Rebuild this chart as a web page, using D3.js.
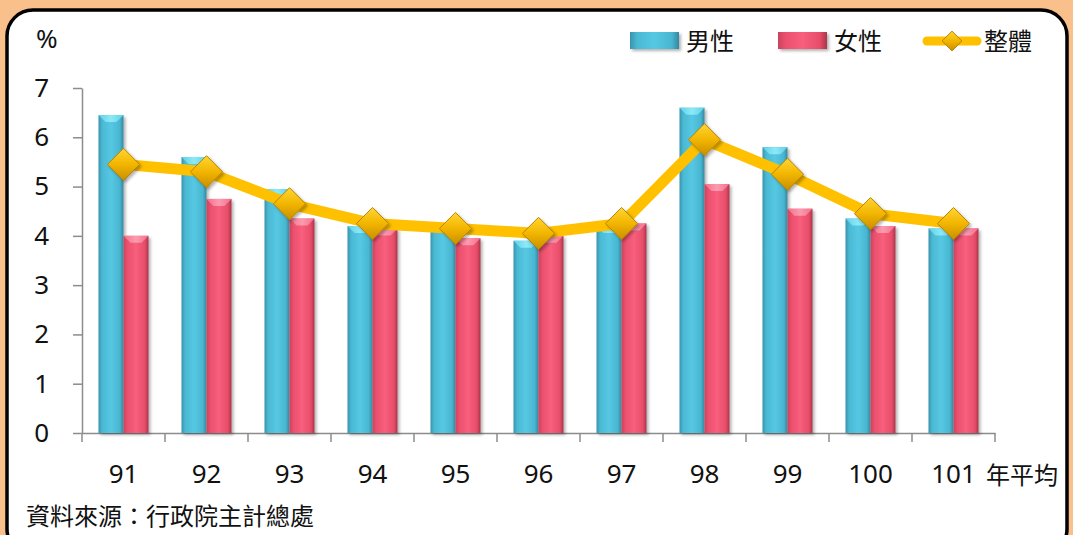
<!DOCTYPE html>
<html>
<head>
<meta charset="utf-8">
<script src="https://cdn.jsdelivr.net/npm/d3@7"></script>
<style>
  html, body { margin: 0; padding: 0; background: #f9c08c; }
  svg { display: block; }
  text { font-family: "Noto Sans", "Noto Sans CJK TC", sans-serif; fill: #111; }
</style>
</head>
<body>
<script>
// data
var years = ["91", "92", "93", "94", "95", "96", "97", "98", "99", "100", "101"];
var male = [6.45, 5.6, 4.95, 4.2, 4.25, 3.9, 4.2, 6.6, 5.8, 4.35, 4.15];
var female = [4.0, 4.75, 4.35, 4.15, 3.95, 4.0, 4.25, 5.05, 4.55, 4.2, 4.15];
var total = [5.45, 5.3, 4.65, 4.25, 4.15, 4.05, 4.25, 5.95, 5.25, 4.45, 4.25];
var yTicks = [0, 1, 2, 3, 4, 5, 6, 7];
var seriesNames = ["男性", "女性", "整體"];

var width = 1073, height = 535;
var svg = d3.select("body").append("svg")
  .attr("width", width)
  .attr("height", height);

var defs = svg.append("defs");

function hGrad(id, stops) {
  var g = defs.append("linearGradient").attr("id", id)
    .attr("x1", "0").attr("x2", "1").attr("y1", "0").attr("y2", "0");
  stops.forEach(function(s) {
    g.append("stop").attr("offset", s[0]).attr("stop-color", s[1]);
  });
}
hGrad("gBlue", [["0", "#3a93ab"], ["0.15", "#4ab9d4"], ["0.5", "#56c8e3"], ["0.85", "#48b6d1"], ["1", "#35879d"]]);
hGrad("gPink", [["0", "#c8435d"], ["0.15", "#eb506d"], ["0.5", "#f85f7c"], ["0.85", "#e84d6a"], ["1", "#a9354b"]]);
hGrad("gBlueCap", [["0", "#5fd0e8"], ["0.5", "#8de9f7"], ["1", "#5fd0e8"]]);
hGrad("gPinkCap", [["0", "#f46f8a"], ["0.5", "#fb9bb0"], ["1", "#f46f8a"]]);

var dg = defs.append("linearGradient").attr("id", "gDiamond")
  .attr("x1", "0").attr("x2", "0").attr("y1", "0").attr("y2", "1");
dg.append("stop").attr("offset", "0").attr("stop-color", "#ffd633");
dg.append("stop").attr("offset", "0.5").attr("stop-color", "#f2b500");
dg.append("stop").attr("offset", "1").attr("stop-color", "#c98f00");

var sh = defs.append("filter").attr("id", "shadow")
  .attr("x", "-30%").attr("y", "-30%").attr("width", "160%").attr("height", "160%");
sh.append("feDropShadow").attr("dx", 2).attr("dy", 2).attr("stdDeviation", 1.5)
  .attr("flood-color", "#000").attr("flood-opacity", 0.3);

// white rounded panel
svg.append("rect")
  .attr("x", 7).attr("y", 10)
  .attr("width", 1060).attr("height", 545)
  .attr("rx", 26).attr("ry", 26)
  .attr("fill", "#fff")
  .attr("stroke", "#000")
  .attr("stroke-width", 3.5);

var margin = { left: 82, right: 78, top: 88, bottom: 102 };

var x = d3.scaleBand()
  .domain(years)
  .range([margin.left, width - margin.right]);

var x1 = d3.scaleBand()
  .domain(["male", "female"])
  .range([0, x.bandwidth()])
  .paddingOuter(0.66);

var y = d3.scaleLinear()
  .domain([0, 7])
  .range([height - margin.bottom, margin.top]);

// y axis
var yAxis = svg.append("g")
  .attr("transform", "translate(" + margin.left + ",0)")
  .call(d3.axisLeft(y).tickValues(yTicks).tickFormat(d3.format("d"))
    .tickSize(9).tickPadding(24).tickSizeOuter(0));
yAxis.select(".domain").attr("stroke", "#8c8c8c").attr("stroke-width", 1.5);
yAxis.selectAll(".tick line").attr("stroke", "#8c8c8c").attr("stroke-width", 1.5);
yAxis.selectAll(".tick text").style("font-size", "26px").attr("fill", "#111");

// x axis
var xAxis = svg.append("g")
  .attr("transform", "translate(0," + y(0) + ")")
  .call(d3.axisBottom(x).tickSize(0).tickPadding(32).tickSizeOuter(0));
xAxis.select(".domain").attr("stroke", "#8c8c8c").attr("stroke-width", 1.5);
xAxis.selectAll(".tick text").style("font-size", "26px").attr("fill", "#111");

// boundary ticks between categories
var bounds = years.map(function(d) { return x(d); }).concat([x.range()[1]]);
xAxis.selectAll(".bound").data(bounds).enter().append("line")
  .attr("x1", function(d) { return d; })
  .attr("x2", function(d) { return d; })
  .attr("y1", 0).attr("y2", 9)
  .attr("stroke", "#8c8c8c").attr("stroke-width", 1.5);

// bars
var rows = years.map(function(yr, i) {
  return { year: yr, male: male[i], female: female[i] };
});

var groups = svg.append("g").selectAll("g")
  .data(rows).enter().append("g")
  .attr("transform", function(d) { return "translate(" + x(d.year) + ",0)"; });

[["male", "gBlue", "gBlueCap"], ["female", "gPink", "gPinkCap"]].forEach(function(k) {
  var key = k[0];
  groups.append("rect")
    .attr("x", x1(key))
    .attr("y", function(d) { return y(d[key]); })
    .attr("width", x1.bandwidth())
    .attr("height", function(d) { return y(0) - y(d[key]); })
    .attr("fill", "url(#" + k[1] + ")")
    .attr("filter", "url(#shadow)");
  groups.append("path")
    .attr("d", function(d) {
      var x0 = x1(key), w = x1.bandwidth(), t = y(d[key]);
      return "M" + x0 + "," + t + "L" + (x0 + w) + "," + t +
        "L" + (x0 + w * 0.72) + "," + (t + 7) + "L" + (x0 + w * 0.28) + "," + (t + 7) + "Z";
    })
    .attr("fill", "url(#" + k[2] + ")");
});

// overall line
var cx = function(i) { return x(years[i]) + x.bandwidth() / 2; };
var line = d3.line()
  .x(function(d, i) { return cx(i); })
  .y(function(d) { return y(d); });

svg.append("path")
  .datum(total)
  .attr("d", line)
  .attr("fill", "none")
  .attr("stroke", "#ffc000")
  .attr("stroke-width", 11)
  .attr("stroke-linejoin", "round");

var diamond = d3.symbol().type(d3.symbolDiamond2).size(660);
svg.append("g").selectAll("path")
  .data(total).enter().append("path")
  .attr("d", diamond)
  .attr("transform", function(d, i) { return "translate(" + cx(i) + "," + y(d) + ")"; })
  .attr("fill", "url(#gDiamond)")
  .attr("stroke", "#b88400")
  .attr("stroke-width", 1)
  .attr("filter", "url(#shadow)");

// legend
var lg = svg.append("g");
lg.append("rect").attr("x", 630).attr("y", 32).attr("width", 49).attr("height", 17)
  .attr("fill", "url(#gBlue)").attr("filter", "url(#shadow)");
lg.append("text").attr("x", 686).attr("y", 50).style("font-size", "24px").text(seriesNames[0]);
lg.append("rect").attr("x", 778).attr("y", 32).attr("width", 49).attr("height", 17)
  .attr("fill", "url(#gPink)").attr("filter", "url(#shadow)");
lg.append("text").attr("x", 834).attr("y", 50).style("font-size", "24px").text(seriesNames[1]);
lg.append("line").attr("x1", 927).attr("x2", 977).attr("y1", 41).attr("y2", 41)
  .attr("stroke", "#ffc000").attr("stroke-width", 9).attr("stroke-linecap", "round");
lg.append("path").attr("d", d3.symbol().type(d3.symbolDiamond2).size(250))
  .attr("transform", "translate(952,41)")
  .attr("fill", "url(#gDiamond)").attr("stroke", "#b88400").attr("stroke-width", 1);
lg.append("text").attr("x", 984).attr("y", 50).style("font-size", "24px").text(seriesNames[2]);

// labels
svg.append("text").attr("x", 36).attr("y", 48).style("font-size", "26px").text("%");
svg.append("text").attr("x", 986).attr("y", 484).style("font-size", "24px").text("年平均");
svg.append("text").attr("x", 26).attr("y", 525).style("font-size", "24px").text("資料來源：行政院主計總處");
</script>
</body>
</html>
